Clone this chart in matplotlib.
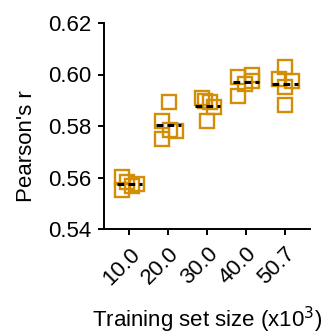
import matplotlib
matplotlib.use("Agg")
import matplotlib.pyplot as plt
import numpy as np

plt.rcParams['font.family'] = ['Liberation Sans', 'DejaVu Sans']

# Training set sizes (x10^3) and per-run Pearson correlations
sizes = ["10.0", "20.0", "30.0", "40.0", "50.7"]
r_10 = [0.5603, 0.5552, 0.5583, 0.5568, 0.5576]
r_20 = [0.5894, 0.5818, 0.5786, 0.5779, 0.5749]
r_30 = [0.5907, 0.5898, 0.5894, 0.5874, 0.5818]
r_40 = [0.5990, 0.6000, 0.5962, 0.5975, 0.5918]
r_50 = [0.6030, 0.5983, 0.5974, 0.5952, 0.5880]
runs = [r_10, r_20, r_30, r_40, r_50]

# Horizontal spread of the points within each column (category units)
spread = [
    [-0.18, -0.18, -0.05, 0.08, 0.20],
    [0.01, -0.17, 0.04, 0.19, -0.17],
    [-0.14, -0.04, 0.08, 0.18, 0.01],
    [-0.19, 0.17, -0.03, 0.17, -0.19],
    [0.00, -0.15, 0.18, 0.00, 0.00],
]

orange = '#D38D06'
fs = 16

fig = plt.figure(figsize=(3.26, 3.35), dpi=100)
ax = fig.add_axes([104 / 326, 1 - 229 / 335, 206 / 326, 206 / 335])

for i, (vals, dx) in enumerate(zip(runs, spread)):
    ax.plot(i + np.array(dx), vals, linestyle='none', marker='s',
            markersize=9.6, markerfacecolor='none', markeredgecolor=orange,
            markeredgewidth=1.7, zorder=2)
    m = np.mean(vals)
    ax.plot([i - 0.32, i + 0.34], [m, m], color='black', lw=2.2,
            linestyle=(0, (2.2, 1.4)), zorder=3)

ax.set_xlim(-0.65, 4.65)
ax.set_ylim(0.54, 0.62)
ax.set_yticks(np.arange(0.54, 0.6201, 0.02))
ax.set_yticklabels([f"{v:.2f}" for v in np.arange(0.54, 0.6201, 0.02)])
ax.set_xticks(range(len(sizes)))
ax.set_xticklabels(sizes, rotation=45, ha='right', rotation_mode='anchor')

for s in ['top', 'right']:
    ax.spines[s].set_visible(False)
for s in ['left', 'bottom']:
    ax.spines[s].set_linewidth(1.4)
ax.tick_params(axis='both', which='major', direction='out', length=4.5,
               width=1.4, labelsize=fs, colors='black')
ax.tick_params(axis='y', pad=4.5)
ax.tick_params(axis='x', pad=6)

ax.set_ylabel("Pearson's r", fontsize=fs)
ax.yaxis.set_label_coords(-0.325, 0.40)
ax.set_xlabel("Training set size (x10$^{3}$)", fontsize=fs)
ax.xaxis.set_label_coords(0.5, -0.37)

fig.savefig("out.png", dpi=100)
